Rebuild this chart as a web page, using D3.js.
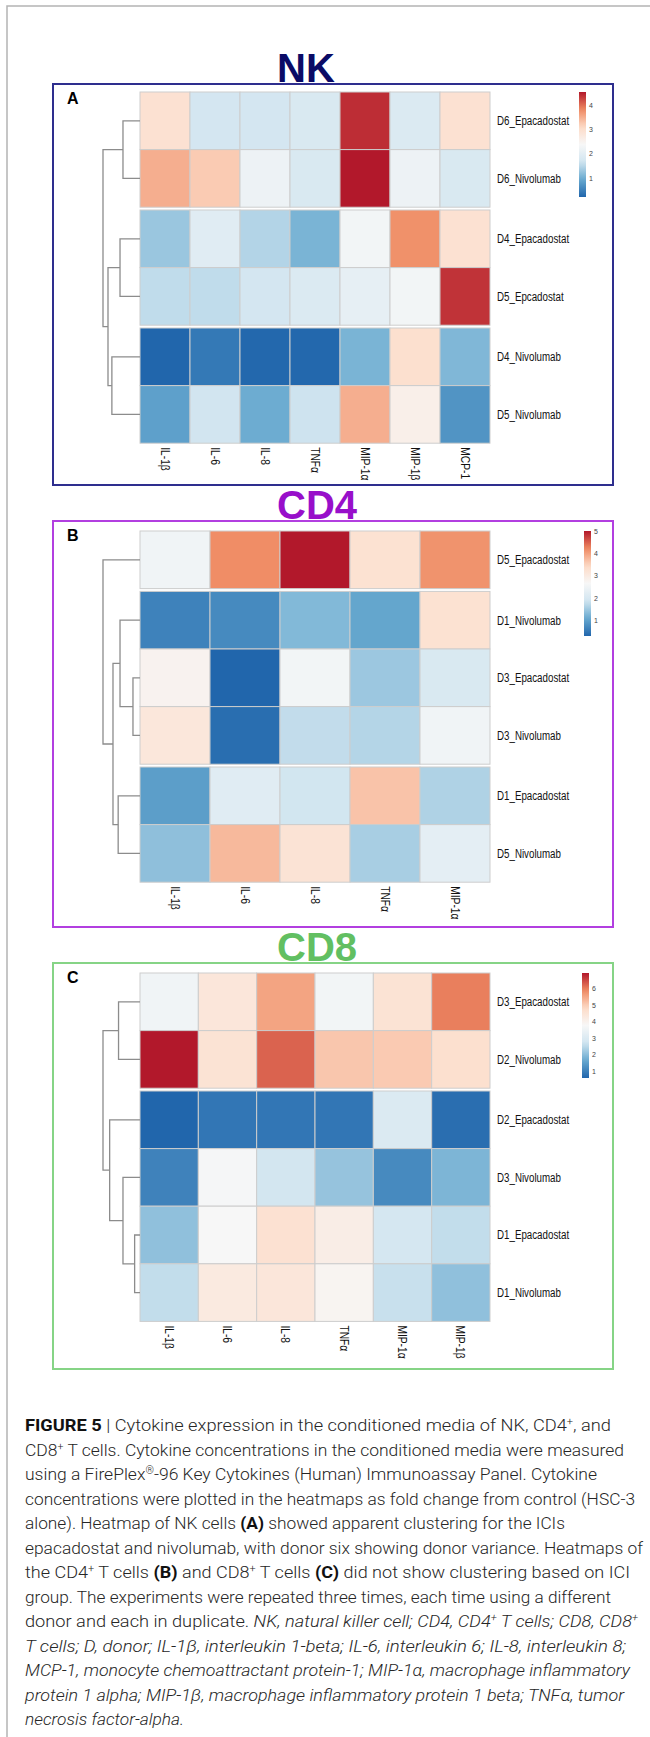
<!DOCTYPE html>
<html>
<head>
<meta charset="utf-8">
<script src="https://cdn.jsdelivr.net/npm/d3@7"></script>
<style>
  html, body { margin: 0; padding: 0; background: #fff; }
  svg { display: block; }
  text { font-family: "Liberation Sans", Arial, sans-serif; }
</style>
</head>
<body>
<svg id="fig" width="650" height="1737"></svg>
<script>
// ---- data: NK (panel A)
var nkCols = ['IL-1β', 'IL-6', 'IL-8', 'TNFα', 'MIP-1α', 'MIP-1β', 'MCP-1'];
var nkRows = ['D6_Epacadostat', 'D6_Nivolumab', 'D4_Epacadostat', 'D5_Epcadostat', 'D4_Nivolumab', 'D5_Nivolumab'];
var nkValues = [
	[2.94, 1.72, 1.72, 1.81, 4.42, 1.85, 2.94],
	[3.51, 3.25, 2.20, 1.81, 4.55, 2.20, 1.81],
	[1.29, 1.94, 1.46, 1.07, 2.29, 3.77, 2.94],
	[1.55, 1.55, 1.72, 1.85, 2.07, 2.29, 4.38],
	[0.22, 0.42, 0.24, 0.24, 1.07, 2.98, 1.11],
	[0.85, 1.68, 0.98, 1.64, 3.51, 2.59, 0.72]
];
// merges: [height, left, right], leaves are row indices
var nkTree = [1.0, [0.46, 0, 1], [0.865, [0.54, 2, 3], [0.76, 4, 5]]];
var nkGaps = [2, 4];

// ---- data: CD4 (panel B)
var cd4Cols = ['IL-1β', 'IL-6', 'IL-8', 'TNFα', 'MIP-1α'];
var cd4Rows = ['D5_Epacadostat', 'D1_Nivolumab', 'D3_Epacadostat', 'D3_Nivolumab', 'D1_Epacadostat', 'D5_Nivolumab'];
var cd4Values = [
	[2.51, 4.20, 5.02, 3.26, 4.15],
	[0.63, 0.72, 1.29, 1.05, 3.26],
	[2.79, 0.30, 2.56, 1.48, 2.04],
	[3.12, 0.39, 1.76, 1.66, 2.51],
	[0.96, 2.18, 1.90, 3.68, 1.62],
	[1.38, 3.78, 3.21, 1.57, 2.27]
];
var cd4Tree = [1.0, 0, [0.73, [0.54, 1, [0.19, 2, 3]], [0.59, 4, 5]]];
var cd4Gaps = [1, 4];

// ---- data: CD8 (panel C)
var cd8Cols = ['IL-1β', 'IL-6', 'IL-8', 'TNFα', 'MIP-1α', 'MIP-1β'];
var cd8Rows = ['D3_Epacadostat', 'D2_Nivolumab', 'D2_Epacadostat', 'D3_Nivolumab', 'D1_Epacadostat', 'D1_Nivolumab'];
var cd8Values = [
	[3.58, 4.41, 5.56, 3.64, 4.54, 6.00],
	[6.96, 4.54, 6.26, 5.11, 5.05, 4.66],
	[0.58, 0.84, 0.84, 0.84, 3.00, 0.71],
	[1.03, 3.71, 2.75, 2.11, 1.15, 1.86],
	[2.05, 3.77, 4.60, 4.15, 2.81, 2.56],
	[2.56, 4.28, 4.41, 3.90, 2.62, 2.05]
];
var cd8Tree = [1.0, [0.58, 0, 1], [0.82, 2, [0.46, 3, [0.145, 4, 5]]]];
var cd8Gaps = [2];

var palette = ['#2166ac', '#67a9cf', '#d1e5f0', '#f7f7f7', '#fddbc7', '#ef8a62', '#b2182b'];

// caption, one entry per printed line: [text, style]
var captionLines = [
	[['FIGURE 5', 'b'], [' | Cytokine expression in the conditioned media of NK, CD4', ''], ['+', 'sup'], [', and', '']],
	[['CD8', ''], ['+', 'sup'], [' T cells. Cytokine concentrations in the conditioned media were measured', '']],
	[['using a FirePlex', ''], ['®', 'sup'], ['-96 Key Cytokines (Human) Immunoassay Panel. Cytokine', '']],
	[['concentrations were plotted in the heatmaps as fold change from control (HSC-3', '']],
	[['alone). Heatmap of NK cells ', ''], ['(A)', 'b'], [' showed apparent clustering for the ICIs', '']],
	[['epacadostat and nivolumab, with donor six showing donor variance. Heatmaps of', '']],
	[['the CD4', ''], ['+', 'sup'], [' T cells ', ''], ['(B)', 'b'], [' and CD8', ''], ['+', 'sup'], [' T cells ', ''], ['(C)', 'b'], [' did not show clustering based on ICI', '']],
	[['group. The experiments were repeated three times, each time using a different', '']],
	[['donor and each in duplicate. ', ''], ['NK, natural killer cell; CD4, CD4', 'i'], ['+', 'isup'], [' T cells; CD8, CD8', 'i'], ['+', 'isup']],
	[['T cells; D, donor; IL-1β, interleukin 1-beta; IL-6, interleukin 6; IL-8, interleukin 8;', 'i']],
	[['MCP-1, monocyte chemoattractant protein-1; MIP-1α, macrophage inflammatory', 'i']],
	[['protein 1 alpha; MIP-1β, macrophage inflammatory protein 1 beta; TNFα, tumor', 'i']],
	[['necrosis factor-alpha.', 'i']]
];
var captionRight = [611, 624, 597, 635, 565, 643, 630, 611, 638, 626, 630, 624, 184];

var svg = d3.select('#fig');

// page frame
svg.append('path')
	.attr('d', 'M7,1737V6H650')
	.attr('fill', 'none')
	.attr('stroke', '#b4b4b4')
	.attr('stroke-width', 1.5);

function squeeze(sel, k) {
	sel.each(function() {
		var w = this.getComputedTextLength();
		d3.select(this).attr('textLength', w * k).attr('lengthAdjust', 'spacingAndGlyphs');
	});
}

var panels = [
	{title: 'NK', letter: 'A', titleColor: '#0b0b66', boxColor: '#2e2e8e', boxTop: 84, boxBottom: 485, cellTop: 92, legendX: 579,
		cols: nkCols, rows: nkRows, values: nkValues, tree: nkTree, gaps: nkGaps},
	{title: 'CD4', letter: 'B', titleColor: '#980fca', boxColor: '#b23fe0', boxTop: 521, boxBottom: 927, cellTop: 531, legendX: 584,
		cols: cd4Cols, rows: cd4Rows, values: cd4Values, tree: cd4Tree, gaps: cd4Gaps},
	{title: 'CD8', letter: 'C', titleColor: '#62bf62', boxColor: '#86d486', boxTop: 963, boxBottom: 1369, cellTop: 973, legendX: 582,
		cols: cd8Cols, rows: cd8Rows, values: cd8Values, tree: cd8Tree, gaps: cd8Gaps}
];

var rowH = 57.6, gapH = 2.8, legendH = 105;

panels.forEach(function(p, pi) {
	var g = svg.append('g');

	g.append('rect')
		.attr('x', 53).attr('y', p.boxTop)
		.attr('width', 560).attr('height', p.boxBottom - p.boxTop)
		.attr('fill', 'none')
		.attr('stroke', p.boxColor)
		.attr('stroke-width', 2);

	g.append('text')
		.attr('x', 277).attr('y', p.boxTop - 2)
		.attr('font-size', 40)
		.attr('font-weight', 'bold')
		.attr('fill', p.titleColor)
		.text(p.title);

	g.append('text')
		.attr('x', 67).attr('y', p.boxTop + 20)
		.attr('font-size', 16)
		.attr('font-weight', 'bold')
		.text(p.letter);

	var x = d3.scaleBand().domain(p.cols).range([140, 490]);
	var yb = d3.scaleBand().domain(d3.range(p.rows.length))
		.range([p.cellTop, p.cellTop + rowH * p.rows.length]);
	var y = function(i) {
		return yb(i) + gapH * p.gaps.filter(function(k) { return k <= i; }).length;
	};
	var cellBottom = y(p.rows.length - 1) + rowH;

	var ext = d3.extent(d3.merge(p.values));
	var color = d3.scaleLinear()
		.domain(palette.map(function(c, i) { return ext[0] + i * (ext[1] - ext[0]) / (palette.length - 1); }))
		.range(palette);

	var flat = [];
	p.values.forEach(function(row, i) {
		row.forEach(function(v, j) { flat.push({r: i, c: p.cols[j], v: v}); });
	});

	g.selectAll('rect.cell')
		.data(flat).enter()
		.append('rect')
		.attr('class', 'cell')
		.attr('x', function(d) { return x(d.c); })
		.attr('y', function(d) { return y(d.r); })
		.attr('width', x.bandwidth())
		.attr('height', rowH)
		.attr('fill', function(d) { return color(d.v); })
		.attr('stroke', '#cdcdcd')
		.attr('stroke-width', 1);

	// row labels
	g.selectAll('text.rowlab')
		.data(p.rows).enter()
		.append('text')
		.attr('class', 'rowlab')
		.attr('x', 497)
		.attr('y', function(d, i) { return y(i) + rowH / 2; })
		.attr('dy', '0.35em')
		.attr('font-size', 12.5)
		.attr('fill', '#111')
		.text(function(d) { return d; })
		.call(squeeze, 0.78);

	// column labels
	g.selectAll('text.collab')
		.data(p.cols).enter()
		.append('text')
		.attr('class', 'collab')
		.attr('transform', function(d) {
			return 'translate(' + (x(d) + x.bandwidth() / 2) + ',' + (cellBottom + 4) + ') rotate(90)';
		})
		.attr('dy', '0.35em')
		.attr('font-size', 12.5)
		.attr('fill', '#111')
		.text(function(d) { return d; })
		.call(squeeze, 0.82);

	// dendrogram
	var tx = d3.scaleLinear().domain([0, 1]).range([140, 103]);
	var paths = [];
	function walk(node) {
		if (typeof node === 'number') return {x: tx(0), y: y(node) + rowH / 2};
		var a = walk(node[1]), b = walk(node[2]);
		var nx = tx(node[0]);
		paths.push('M' + a.x + ',' + a.y + 'H' + nx + 'V' + b.y + 'H' + b.x);
		return {x: nx, y: (a.y + b.y) / 2};
	}
	walk(p.tree);
	g.selectAll('path.tree')
		.data(paths).enter()
		.append('path')
		.attr('class', 'tree')
		.attr('d', function(d) { return d; })
		.attr('fill', 'none')
		.attr('stroke', '#8c8c8c')
		.attr('stroke-width', 1.3);

	// legend
	var gid = 'grad' + pi;
	var grad = svg.append('defs').append('linearGradient')
		.attr('id', gid)
		.attr('x1', 0).attr('y1', 1).attr('x2', 0).attr('y2', 0);
	grad.selectAll('stop')
		.data(d3.range(0, 1.0001, 0.05)).enter()
		.append('stop')
		.attr('offset', function(d) { return d; })
		.attr('stop-color', function(d) { return color(ext[0] + d * (ext[1] - ext[0])); });

	var ly = d3.scaleLinear().domain(ext).range([p.cellTop + legendH, p.cellTop]);
	g.append('rect')
		.attr('x', p.legendX).attr('y', p.cellTop)
		.attr('width', 7).attr('height', legendH)
		.attr('fill', 'url(#' + gid + ')');

	g.selectAll('text.tick')
		.data(d3.range(Math.ceil(ext[0]), Math.floor(ext[1]) + 1)).enter()
		.append('text')
		.attr('class', 'tick')
		.attr('x', p.legendX + 10)
		.attr('y', function(d) { return ly(d); })
		.attr('dy', '0.35em')
		.attr('font-size', 7)
		.attr('fill', '#444')
		.text(function(d) { return d; });
});

// caption
var cap = svg.append('g')
	.attr('font-size', 16.5)
	.attr('fill', '#262626');

captionLines.forEach(function(line, i) {
	var t = cap.append('text')
		.attr('x', 25)
		.attr('y', 1431 + i * 24.5)
		.style('font-family', 'Roboto, "Liberation Sans", sans-serif')
		.attr('font-weight', 300);
	var raised = false;
	line.forEach(function(seg) {
		var sp = t.append('tspan').text(seg[0]);
		var isSup = seg[1] === 'sup' || seg[1] === 'isup';
		if (seg[1] === 'b') sp.attr('font-weight', 700).attr('fill', '#111');
		if (seg[1] === 'i' || seg[1] === 'isup') sp.attr('font-style', 'italic');
		if (isSup && !raised) { sp.attr('dy', -6).attr('font-size', 10); raised = true; }
		else if (isSup) { sp.attr('font-size', 10); }
		else if (raised) { sp.attr('dy', 6); raised = false; }
	});
	t.attr('textLength', captionRight[i] - 25).attr('lengthAdjust', 'spacingAndGlyphs');
});
</script>
</body>
</html>
